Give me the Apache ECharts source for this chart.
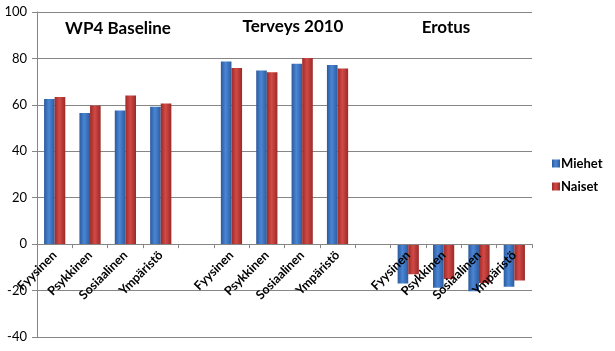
<!DOCTYPE html>
<html>
<head>
<meta charset="utf-8">
<script src="https://cdn.jsdelivr.net/npm/echarts@6/dist/echarts.min.js"></script>
<style>
html,body{margin:0;padding:0;background:#fff;}
#chart{width:615px;height:351px;}
</style>
</head>
<body>
<div id="chart"></div>
<script>
// ---- data ----
var groupNames = ['WP4 Baseline', 'Terveys 2010', 'Erotus'];
var subCategories = ['Fyysinen', 'Psykkinen', 'Sosiaalinen', 'Ympäristö'];
var miehetBaseline = [62.5, 56.5, 57.6, 59.2];
var naisetBaseline = [63.4, 59.7, 64.0, 60.6];
var miehetTerveys = [78.7, 74.8, 77.7, 77.2];
var naisetTerveys = [75.9, 74.0, 80.2, 75.7];
var miehetErotus = [-17.0, -18.8, -20.3, -18.4];
var naisetErotus = [-13.0, -15.0, -16.7, -15.7];
var seriesNames = ['Miehet', 'Naiset'];
var yTicks = [-40, -20, 0, 20, 40, 60, 80, 100];

// build category axis with empty slots between groups
var categories = [];
var miehet = [];
var naiset = [];
var mGroups = [miehetBaseline, miehetTerveys, miehetErotus];
var nGroups = [naisetBaseline, naisetTerveys, naisetErotus];
for (var g = 0; g < groupNames.length; g++) {
  if (g > 0) { categories.push(''); miehet.push('-'); naiset.push('-'); }
  for (var i = 0; i < subCategories.length; i++) {
    categories.push(subCategories[i]);
    miehet.push(mGroups[g][i]);
    naiset.push(nGroups[g][i]);
  }
}

function grad(c1, c2, c3) {
  return new echarts.graphic.LinearGradient(0, 0, 1, 0, [
    {offset: 0, color: c1}, {offset: 0.45, color: c2}, {offset: 1, color: c3}
  ]);
}
var blue = grad('#2B5A9C', '#4A86D6', '#2D5C9E');
var red = grad('#9C2A28', '#D24A46', '#9A2A28');

var chart = echarts.init(document.getElementById('chart'), null, {renderer: 'canvas'});
var font = 'Lato, "Open Sans", sans-serif';
chart.setOption({
  animation: false,
  textStyle: {fontFamily: font},
  grid: {left: 37, right: 83, top: 12, bottom: 14, containLabel: false, outerBoundsMode: 'none'},
  legend: {
    orient: 'vertical',
    left: 547, top: 152,
    itemWidth: 8, itemHeight: 8, itemGap: 10,
    icon: 'rect',
    textStyle: {fontFamily: font, fontSize: 13, fontWeight: 'bold', color: '#000', padding: [0, 0, 0, -4]},
    data: [
      {name: seriesNames[0], itemStyle: {color: blue}},
      {name: seriesNames[1], itemStyle: {color: red}}
    ]
  },
  xAxis: {
    type: 'category',
    data: categories,
    position: 'bottom',
    offset: 0,
    z: 5,
    axisLine: {onZero: false, lineStyle: {color: '#868686', width: 1}},
    axisTick: {show: true, length: 4, lineStyle: {color: '#868686'}},
    axisLabel: {
      interval: 0, rotate: 45, margin: 9,
      fontFamily: font, fontSize: 12.5, fontWeight: 'bold', color: '#000'
    },
    splitLine: {show: false}
  },
  yAxis: {
    type: 'value',
    min: yTicks[0], max: yTicks[yTicks.length - 1], interval: 20,
    axisLine: {show: true, lineStyle: {color: '#868686'}},
    axisTick: {show: true, length: 5, lineStyle: {color: '#868686'}},
    axisLabel: {fontFamily: font, fontSize: 13, color: '#000', margin: 10},
    splitLine: {lineStyle: {color: '#868686', width: 1}}
  },
  series: [
    {name: seriesNames[0], type: 'bar', data: miehet, barGap: '0%', barCategoryGap: '40%',
     itemStyle: {color: blue}},
    {name: seriesNames[1], type: 'bar', data: naiset, barGap: '0%', barCategoryGap: '40%',
     itemStyle: {color: red}}
  ],
  graphic: [
    {type: 'text', x: 118, y: 20, style: {text: groupNames[0], fontFamily: font, fontSize: 17, fontWeight: 'bold', fill: '#000', align: 'center'}},
    {type: 'text', x: 293, y: 18, style: {text: groupNames[1], fontFamily: font, fontSize: 17, fontWeight: 'bold', fill: '#000', align: 'center'}},
    {type: 'text', x: 446, y: 19, style: {text: groupNames[2], fontFamily: font, fontSize: 17, fontWeight: 'bold', fill: '#000', align: 'center'}}
  ]
});
// place the category axis on the zero line of the value axis
var bottomPx = chart.convertToPixel({yAxisIndex: 0}, yTicks[0]);
var zeroPx = chart.convertToPixel({yAxisIndex: 0}, 0);
chart.setOption({xAxis: {offset: -(bottomPx - zeroPx)}});
</script>
</body>
</html>
